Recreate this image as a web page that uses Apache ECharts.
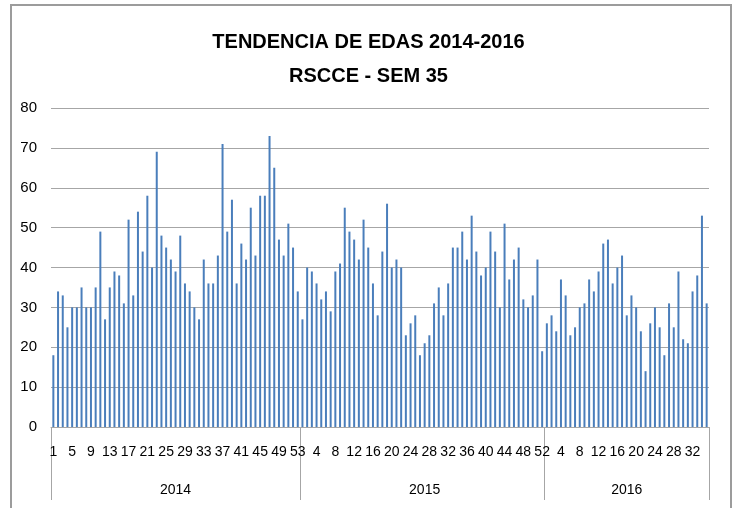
<!DOCTYPE html>
<html>
<head>
<meta charset="utf-8">
<script src="https://cdn.jsdelivr.net/npm/echarts@6/dist/echarts.min.js"></script>
<style>
  html, body { margin: 0; padding: 0; background: #fff; }
  #chart { width: 737px; height: 508px; }
</style>
</head>
<body>
<div id="chart"></div>
<script>
var years = ['2014', '2015', '2016'];
var edas2014 = [18, 34, 33, 25, 30, 30, 35, 30, 30, 35, 49, 27, 35, 39, 38, 31, 52, 33, 54, 44, 58, 40, 69, 48, 45, 42, 39, 48, 36, 34, 30, 27, 42, 36, 36, 43, 71, 49, 57, 36, 46, 42, 55, 43, 58, 58, 73, 65, 47, 43, 51, 45, 34];
var edas2015 = [27, 40, 39, 36, 32, 34, 29, 39, 41, 55, 49, 47, 42, 52, 45, 36, 28, 44, 56, 40, 42, 40, 23, 26, 28, 18, 21, 23, 31, 35, 28, 36, 45, 45, 49, 42, 53, 44, 38, 40, 49, 44, 30, 51, 37, 42, 45, 32, 30, 33, 42, 19];
var edas2016 = [26, 28, 24, 37, 33, 23, 25, 30, 31, 37, 34, 39, 46, 47, 36, 40, 43, 28, 33, 30, 24, 14, 26, 30, 25, 18, 31, 25, 39, 22, 21, 34, 38, 53, 31];
var yTicks = [0, 10, 20, 30, 40, 50, 60, 70, 80];

var perYear = [edas2014, edas2015, edas2016];
var weekLabels = [];
var yearLabels = [];
var values = [];
var boundaries = [];
perYear.forEach(function (arr, yi) {
  boundaries.push(weekLabels.length);
  var mid = weekLabels.length + Math.floor(arr.length / 2);
  arr.forEach(function (v, i) {
    weekLabels.push(String(i + 1));
    values.push(v);
    yearLabels.push(weekLabels.length - 1 === mid ? years[yi] : '');
  });
});

var FONT = '"Liberation Sans Narrow", "Liberation Sans", Arial, sans-serif';
var chart = echarts.init(document.getElementById('chart'));
chart.setOption({
  animation: false,
  graphic: [{
    type: 'rect',
    shape: { x: 11, y: 5, width: 720, height: 510 },
    style: { fill: 'none', stroke: '#9c9c9c', lineWidth: 2 },
    silent: true
  }],
  title: [{
    text: 'TENDENCIA DE EDAS 2014-2016',
    left: 'center', top: 27,
    textStyle: { fontFamily: FONT, fontWeight: 'bold', fontSize: 20, color: '#000' }
  }, {
    text: 'RSCCE - SEM 35',
    left: 'center', top: 61,
    textStyle: { fontFamily: FONT, fontWeight: 'bold', fontSize: 20, color: '#000' }
  }],
  grid: { left: 51, right: 28, top: 108, bottom: 81, containLabel: false },
  xAxis: [{
    type: 'category',
    data: weekLabels,
    position: 'bottom',
    axisLine: { show: true, lineStyle: { color: '#a6a6a6', width: 1 } },
    axisTick: {
      show: true,
      length: 73,
      interval: function (index) { return boundaries.indexOf(index) >= 0; },
      lineStyle: { color: '#a6a6a6', width: 1 }
    },
    axisLabel: {
      interval: 3,
      margin: 18,
      fontFamily: FONT, fontSize: 14, color: '#000'
    },
    splitLine: { show: false }
  }, {
    type: 'category',
    data: yearLabels,
    position: 'bottom',
    axisLine: { show: false },
    axisTick: { show: false },
    axisLabel: {
      interval: 0,
      margin: 56,
      fontFamily: FONT, fontSize: 14, color: '#000'
    },
    splitLine: { show: false }
  }],
  yAxis: {
    type: 'value',
    min: yTicks[0], max: yTicks[yTicks.length - 1], interval: 10,
    axisLine: { show: false },
    axisTick: { show: false },
    axisLabel: { margin: 14, fontFamily: FONT, fontSize: 15, color: '#000' },
    splitLine: { lineStyle: { color: '#a6a6a6', width: 1 } }
  },
  series: [{
    type: 'bar',
    xAxisIndex: 0,
    data: values,
    barWidth: 2,
    itemStyle: { color: '#4a7ebb' }
  }]
});
</script>
</body>
</html>
